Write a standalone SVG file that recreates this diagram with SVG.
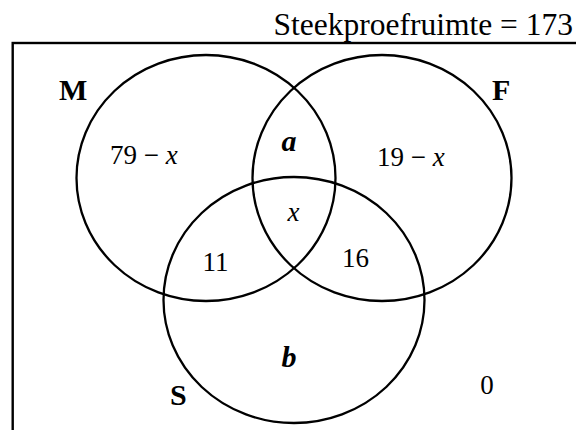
<svg xmlns="http://www.w3.org/2000/svg" width="576" height="430" viewBox="0 0 576 430">
  <style>
    .set { fill: none; stroke: #000; stroke-width: 2.3; }
    .frame { fill: none; stroke: #000; stroke-width: 2.4; }
    .t { font-family: "Liberation Serif", "Times New Roman", serif; fill: #000; }
    .num { font-size: 27px; }
    .lbl { font-size: 30px; font-weight: bold; }
    .var { font-size: 30px; font-weight: bold; font-style: italic; }
    .it { font-style: italic; }
  </style>
  <rect width="576" height="430" fill="#fff"/>

  <g id="universe">
    <rect class="frame" x="12.7" y="43" width="620" height="460"/>
    <text class="t" x="573" y="35" font-size="31.5" text-anchor="end">Steekproefruimte = 173</text>
    <text class="t num" x="487" y="394" text-anchor="middle">0</text>
  </g>

  <g id="set-M">
    <ellipse class="set" cx="206" cy="178" rx="129.5" ry="123"/>
    <text class="t lbl" x="59" y="100">M</text>
    <text class="t num" x="110" y="163.5">79 − <tspan class="it">x</tspan></text>
  </g>

  <g id="set-F">
    <ellipse class="set" cx="382" cy="178" rx="129.5" ry="123"/>
    <text class="t lbl" x="492" y="99.5">F</text>
    <text class="t num" x="377" y="166">19 − <tspan class="it">x</tspan></text>
  </g>

  <g id="set-S">
    <ellipse class="set" cx="294" cy="300" rx="130.5" ry="123"/>
    <text class="t lbl" x="170" y="405.3">S</text>
    <text class="t var" x="289" y="367.3" text-anchor="middle">b</text>
  </g>

  <g id="regions">
    <text class="t var" x="289" y="150.7" text-anchor="middle">a</text>
    <text class="t num it" x="293.5" y="220.7" text-anchor="middle">x</text>
    <text class="t num" x="215.5" y="271" text-anchor="middle">11</text>
    <text class="t num" x="355.5" y="267.3" text-anchor="middle">16</text>
  </g>

  <g id="connectors"></g>
</svg>
